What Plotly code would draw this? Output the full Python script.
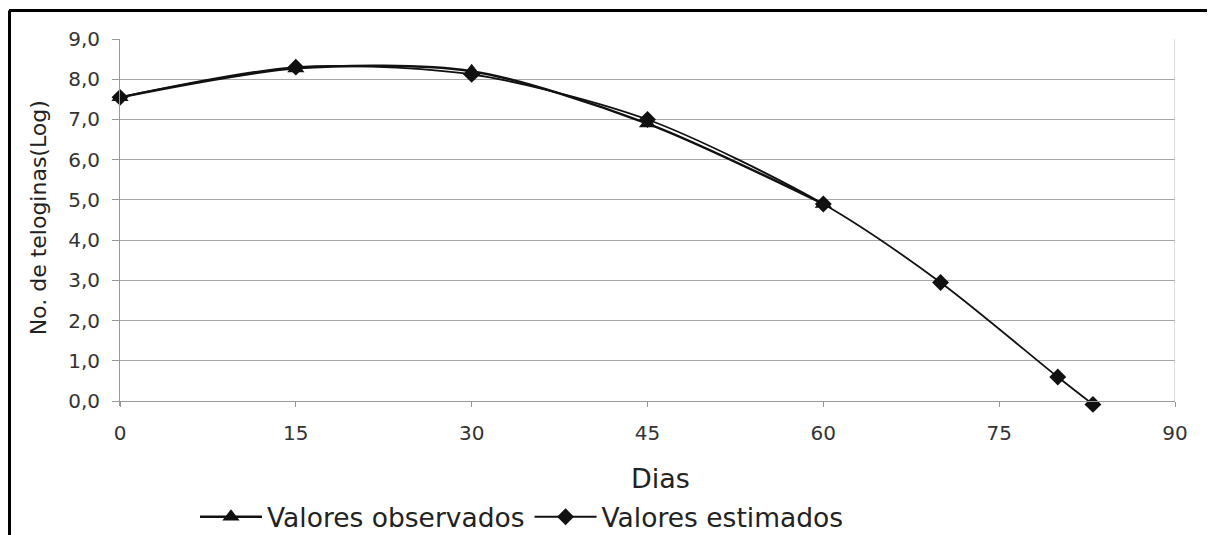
import plotly.graph_objects as go

# Data
dias_obs = [0, 15, 30, 45, 60]
valores_obs = [7.55, 8.27, 8.2, 6.9, 4.9]

dias_est = [0, 15, 30, 45, 60, 70, 80, 83]
valores_est = [7.55, 8.3, 8.12, 7.0, 4.9, 2.95, 0.6, -0.08]

x_ticks = [0, 15, 30, 45, 60, 75, 90]
y_ticks = [0, 1, 2, 3, 4, 5, 6, 7, 8, 9]

FONT = "DejaVu Sans, Arial, sans-serif"
TXT = "#333333"

fig = go.Figure()
fig.add_trace(go.Scatter(
    x=dias_est, y=valores_est, name="Valores estimados",
    mode="lines+markers",
    line=dict(color="#111111", width=1.8, shape="spline", smoothing=0.8),
    marker=dict(symbol="diamond", size=13, color="#111111"),
    cliponaxis=False,
))
fig.add_trace(go.Scatter(
    x=dias_obs, y=valores_obs, name="Valores observados",
    mode="lines+markers",
    line=dict(color="#111111", width=2.4, shape="spline", smoothing=0.8),
    marker=dict(symbol="triangle-up", size=15, color="#111111"),
    cliponaxis=False,
))

# page geometry (the figure div sits 8px inside the page because of the body margin)
OFF = 8
W, H = 1215 - OFF, 535 - OFF
Y_MIN, Y_MAX = -0.12, 9
L, R = 120, 1175               # page x of Dias 0 and 90
T, ZERO = 38.5, 401            # page y of 9,0 and 0,0
unit = (ZERO - T) / 9
B = ZERO + (0 - Y_MIN) * unit  # page y of plot-area bottom
pw, ph = R - L, B - T

def px(x):
    return (x - L) / pw

def py(y):
    return (B - y) / ph

def cy(y):
    return 1 - (y - OFF) / H

def cx(x):
    return (x - OFF) / W

fig.update_layout(
    width=W, height=H,
    margin=dict(l=L - OFF, r=W - (R - OFF), t=T - OFF, b=H - (B - OFF), pad=0),
    paper_bgcolor="white", plot_bgcolor="white",
    separators=",.",
    font=dict(family=FONT, color=TXT),
    showlegend=True,
    legend=dict(
        orientation="h", xref="container", yref="container",
        x=cx(195), y=cy(517), xanchor="left", yanchor="middle",
        font=dict(size=26.5, color="#222222", family=FONT),
        bgcolor="rgba(0,0,0,0)", traceorder="reversed", itemwidth=62,
    ),
    xaxis=dict(
        range=[0, 90], tickvals=x_ticks, showgrid=False,
        anchor="free", position=py(ZERO),
        showline=True, linecolor="#999999", linewidth=1,
        ticks="outside", ticklen=5, tickcolor="#999999",
        tickfont=dict(size=20, color=TXT), ticklabelstandoff=9,
        zeroline=False,
    ),
    yaxis=dict(
        range=[Y_MIN, Y_MAX], tickvals=y_ticks, tickformat=".1f",
        showgrid=True, gridcolor="#a8a8a8", gridwidth=1,
        showline=True, linecolor="#999999", linewidth=1,
        ticks="outside", ticklen=7, tickcolor="#999999",
        tickfont=dict(size=20, color=TXT), ticklabelstandoff=8,
        zeroline=False,
    ),
    annotations=[
        dict(text="Dias", x=px(660), y=py(478), xref="paper", yref="paper",
             xanchor="center", yanchor="middle", showarrow=False,
             font=dict(size=27, color="#222222", family=FONT)),
        dict(text="No. de teloginas(Log)", x=px(38), y=py(218), xref="paper", yref="paper",
             xanchor="center", yanchor="middle", showarrow=False, textangle=-90,
             font=dict(size=22, color="#222222", family=FONT)),
    ],
    shapes=[
        # right border of plot area
        dict(type="line", xref="x", yref="y", x0=90, x1=90, y0=0, y1=9,
             line=dict(color="#bbbbbb", width=1)),
        # scanned page frame (top and left)
        dict(type="line", xref="paper", yref="paper", x0=px(9), x1=px(1215), y0=py(10), y1=py(10),
             line=dict(color="black", width=3)),
        dict(type="line", xref="paper", yref="paper", x0=px(9.5), x1=px(9.5), y0=py(10), y1=py(535),
             line=dict(color="black", width=3)),
    ],
)

fig.write_html("out.html")
